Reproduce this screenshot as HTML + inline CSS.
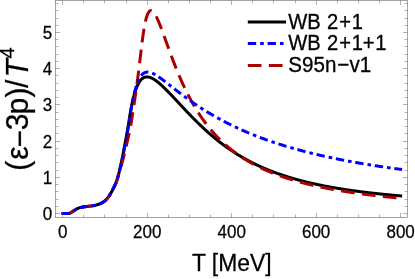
<!DOCTYPE html>
<html><head><meta charset="utf-8"><title>plot</title><style>
html,body{margin:0;padding:0;background:#fff;}
svg{display:block;font-family:"Liberation Sans",sans-serif;}
</style></head><body>
<svg width="415" height="279" viewBox="0 0 415 279">
<rect width="415" height="279" fill="#fff"/>
<g fill="none" stroke-linejoin="round" stroke-width="3">
<path d="M61.60,213.50 L62.86,213.50 L63.24,213.50 L63.62,213.50 L63.99,213.50 L64.37,213.50 L64.75,213.50 L65.13,213.50 L65.50,213.50 L65.88,213.50 L66.26,213.50 L66.63,213.50 L67.01,213.50 L67.39,213.50 L67.77,213.49 L68.14,213.48 L68.52,213.45 L68.90,213.40 L69.28,213.33 L69.65,213.23 L70.03,213.09 L70.41,212.93 L70.79,212.74 L71.16,212.53 L71.54,212.30 L71.92,212.06 L72.30,211.80 L72.67,211.53 L73.05,211.26 L73.43,210.99 L73.80,210.72 L74.18,210.46 L74.56,210.20 L74.94,209.95 L75.31,209.71 L75.69,209.48 L76.07,209.26 L76.45,209.05 L76.82,208.86 L77.20,208.67 L77.58,208.50 L77.96,208.33 L78.33,208.18 L78.71,208.05 L79.09,207.92 L79.46,207.81 L79.84,207.70 L80.22,207.60 L80.60,207.51 L80.97,207.42 L81.35,207.34 L81.73,207.27 L82.11,207.19 L82.48,207.12 L82.86,207.06 L83.24,207.00 L83.62,206.94 L83.99,206.88 L84.37,206.82 L84.75,206.77 L85.12,206.72 L85.50,206.67 L85.88,206.63 L86.26,206.58 L86.63,206.53 L87.01,206.49 L87.39,206.44 L87.77,206.40 L88.14,206.35 L88.52,206.31 L88.90,206.26 L89.28,206.22 L89.65,206.17 L90.03,206.13 L90.41,206.08 L90.79,206.03 L91.16,205.98 L91.54,205.92 L91.92,205.87 L92.29,205.81 L92.67,205.75 L93.05,205.69 L93.43,205.62 L93.80,205.55 L94.18,205.48 L94.56,205.41 L94.94,205.33 L95.31,205.24 L95.69,205.15 L96.07,205.06 L96.45,204.96 L96.82,204.86 L97.20,204.75 L97.58,204.64 L97.95,204.53 L98.33,204.41 L98.71,204.28 L99.09,204.15 L99.46,204.01 L99.84,203.86 L100.22,203.70 L100.60,203.54 L100.97,203.37 L101.35,203.18 L101.73,202.99 L102.11,202.78 L102.48,202.56 L102.86,202.33 L103.24,202.08 L103.62,201.82 L103.99,201.54 L104.37,201.24 L104.75,200.93 L105.12,200.60 L105.50,200.25 L105.88,199.89 L106.26,199.51 L106.63,199.11 L107.01,198.69 L107.39,198.26 L107.77,197.80 L108.14,197.33 L108.52,196.83 L108.90,196.31 L109.28,195.77 L109.65,195.20 L110.03,194.61 L110.41,193.99 L110.78,193.35 L111.16,192.68 L111.54,191.99 L111.92,191.30 L112.29,190.60 L112.67,189.90 L113.05,189.19 L113.43,188.47 L113.80,187.74 L114.18,186.98 L114.56,186.19 L114.94,185.37 L115.31,184.51 L115.69,183.60 L116.07,182.64 L116.45,181.61 L116.82,180.50 L117.20,179.31 L117.58,178.02 L117.95,176.65 L118.33,175.24 L118.71,173.78 L119.09,172.28 L119.46,170.73 L119.84,169.14 L120.22,167.51 L120.60,165.83 L120.97,164.11 L121.35,162.36 L121.73,160.56 L122.11,158.73 L122.48,156.87 L122.86,154.98 L123.24,153.05 L123.61,151.10 L123.99,149.13 L124.37,147.14 L124.75,145.13 L125.12,143.11 L125.50,141.07 L125.88,139.03 L126.26,136.99 L126.63,134.94 L127.01,132.89 L127.39,130.75 L127.77,128.51 L128.14,126.20 L128.52,123.84 L128.90,121.47 L129.28,119.12 L129.65,116.80 L130.03,114.54 L130.41,112.36 L130.78,110.27 L131.16,108.24 L131.54,106.25 L131.92,104.33 L132.29,102.51 L132.67,100.80 L133.05,99.20 L133.43,97.68 L133.80,96.23 L134.18,94.86 L134.56,93.55 L134.94,92.31 L135.31,91.13 L135.69,90.01 L136.07,88.95 L136.44,87.95 L136.82,86.99 L137.20,86.10 L137.58,85.26 L137.95,84.47 L138.33,83.73 L138.71,83.05 L139.09,82.40 L139.46,81.81 L139.84,81.25 L140.22,80.73 L140.60,80.26 L140.97,79.82 L141.35,79.42 L141.73,79.05 L142.11,78.72 L142.48,78.42 L142.86,78.16 L143.24,77.92 L143.61,77.71 L143.99,77.52 L144.37,77.37 L144.75,77.23 L145.12,77.12 L145.50,77.04 L145.88,76.97 L146.26,76.92 L146.63,76.90 L147.01,76.89 L147.39,76.90 L147.77,76.93 L148.14,76.98 L148.52,77.04 L148.90,77.12 L149.27,77.21 L149.65,77.31 L150.03,77.43 L150.41,77.57 L150.78,77.71 L151.16,77.87 L151.54,78.04 L151.92,78.21 L152.29,78.40 L152.67,78.60 L153.05,78.81 L153.43,79.03 L153.80,79.25 L154.18,79.49 L154.56,79.73 L154.93,79.98 L155.31,80.24 L155.69,80.50 L156.07,80.77 L156.44,81.05 L156.82,81.34 L157.20,81.62 L157.58,81.92 L157.95,82.22 L158.33,82.53 L158.71,82.84 L159.09,83.15 L159.46,83.47 L159.84,83.80 L160.22,84.13 L160.60,84.46 L160.97,84.80 L161.35,85.14 L161.73,85.48 L162.10,85.83 L162.48,86.18 L162.86,86.53 L163.24,86.89 L163.61,87.25 L163.99,87.61 L164.37,87.97 L164.75,88.34 L165.12,88.71 L165.50,89.08 L165.88,89.46 L166.26,89.83 L166.63,90.21 L167.01,90.59 L167.39,90.97 L167.76,91.36 L168.14,91.74 L168.52,92.13 L168.90,92.52 L169.27,92.91 L169.65,93.30 L170.03,93.69 L170.41,94.08 L170.78,94.48 L171.16,94.87 L171.54,95.27 L171.92,95.67 L172.29,96.06 L172.67,96.46 L173.05,96.86 L173.43,97.26 L173.80,97.66 L174.18,98.07 L174.56,98.47 L174.93,98.87 L175.31,99.27 L175.69,99.68 L176.07,100.08 L176.44,100.48 L176.82,100.89 L177.20,101.29 L177.58,101.70 L177.95,102.10 L178.33,102.51 L178.71,102.91 L179.09,103.32 L179.46,103.72 L179.84,104.13 L180.22,104.53 L180.59,104.93 L180.97,105.34 L181.35,105.74 L181.73,106.15 L182.10,106.55 L182.48,106.95 L182.86,107.36 L183.24,107.76 L183.61,108.16 L183.99,108.56 L184.37,108.96 L184.75,109.36 L185.12,109.76 L185.50,110.16 L185.88,110.56 L186.26,110.96 L186.63,111.36 L187.01,111.75 L187.39,112.15 L187.76,112.55 L188.14,112.94 L188.52,113.34 L188.90,113.73 L189.27,114.12 L189.65,114.51 L190.03,114.90 L190.41,115.29 L190.78,115.68 L191.16,116.07 L191.54,116.46 L191.92,116.85 L192.29,117.23 L192.67,117.62 L193.05,118.00 L193.42,118.38 L193.80,118.76 L194.18,119.15 L194.56,119.53 L194.93,119.90 L195.31,120.28 L195.69,120.66 L196.07,121.03 L196.44,121.41 L196.82,121.78 L197.20,122.15 L197.58,122.52 L197.95,122.89 L198.33,123.26 L198.71,123.63 L199.09,124.00 L199.46,124.36 L199.84,124.73 L200.22,125.09 L200.59,125.45 L200.97,125.81 L201.35,126.17 L201.73,126.53 L202.10,126.88 L202.48,127.24 L202.86,127.59 L203.24,127.95 L203.61,128.30 L203.99,128.65 L204.37,129.00 L204.75,129.34 L205.12,129.69 L205.50,130.04 L205.88,130.38 L206.25,130.72 L206.63,131.06 L207.01,131.40 L207.39,131.74 L207.76,132.08 L208.14,132.41 L208.52,132.75 L208.90,133.08 L209.27,133.41 L209.65,133.74 L210.03,134.07 L210.41,134.40 L210.78,134.73 L211.16,135.05 L211.54,135.38 L211.91,135.70 L212.29,136.02 L212.67,136.34 L213.05,136.66 L213.42,136.97 L213.80,137.29 L214.18,137.60 L214.56,137.92 L214.93,138.23 L215.31,138.54 L215.69,138.85 L216.07,139.15 L216.44,139.46 L216.82,139.76 L217.20,140.07 L217.58,140.37 L217.95,140.67 L218.33,140.97 L218.71,141.27 L219.08,141.56 L219.46,141.86 L219.84,142.15 L220.22,142.44 L220.59,142.73 L220.97,143.02 L221.35,143.31 L221.73,143.60 L222.10,143.88 L222.48,144.17 L222.86,144.45 L223.24,144.73 L223.61,145.01 L223.99,145.29 L224.37,145.57 L224.74,145.85 L225.12,146.12 L225.50,146.40 L225.88,146.67 L226.25,146.94 L226.63,147.21 L227.01,147.48 L227.39,147.74 L227.76,148.01 L228.14,148.27 L228.52,148.54 L228.90,148.80 L229.27,149.06 L229.65,149.32 L230.03,149.58 L230.41,149.83 L230.78,150.09 L231.16,150.34 L231.54,150.60 L231.91,150.85 L232.29,151.10 L232.67,151.35 L233.05,151.60 L233.42,151.84 L233.80,152.09 L234.18,152.33 L234.56,152.58 L234.93,152.82 L235.31,153.06 L235.69,153.30 L236.07,153.54 L236.44,153.77 L236.82,154.01 L237.20,154.24 L237.57,154.48 L237.95,154.71 L238.33,154.94 L238.71,155.17 L239.08,155.40 L239.46,155.63 L239.84,155.85 L240.22,156.08 L240.59,156.30 L240.97,156.53 L241.35,156.75 L241.73,156.97 L242.10,157.19 L242.48,157.41 L242.86,157.62 L243.24,157.84 L243.61,158.05 L243.99,158.27 L244.37,158.48 L244.74,158.69 L245.12,158.90 L245.50,159.11 L245.88,159.32 L246.25,159.53 L246.63,159.74 L247.01,159.94 L247.39,160.14 L247.76,160.35 L248.14,160.55 L248.52,160.75 L248.90,160.95 L249.27,161.15 L249.65,161.35 L250.03,161.55 L250.40,161.74 L250.78,161.94 L251.16,162.13 L251.54,162.32 L251.91,162.51 L252.29,162.71 L252.67,162.90 L253.05,163.08 L253.42,163.27 L253.80,163.46 L254.18,163.65 L254.56,163.83 L254.93,164.01 L255.31,164.20 L255.69,164.38 L256.07,164.56 L256.44,164.74 L256.82,164.92 L257.20,165.10 L257.57,165.28 L257.95,165.45 L258.33,165.63 L258.71,165.80 L259.08,165.98 L259.46,166.15 L259.84,166.32 L260.22,166.49 L260.59,166.66 L260.97,166.83 L261.35,167.00 L261.73,167.17 L262.10,167.34 L262.48,167.50 L262.86,167.67 L263.23,167.83 L263.61,167.99 L263.99,168.16 L264.37,168.32 L264.74,168.48 L265.12,168.64 L265.50,168.80 L265.88,168.96 L266.25,169.11 L266.63,169.27 L267.01,169.43 L267.39,169.58 L267.76,169.74 L268.14,169.89 L268.52,170.04 L268.90,170.19 L269.27,170.34 L269.65,170.50 L270.03,170.64 L270.40,170.79 L270.78,170.94 L271.16,171.09 L271.54,171.24 L271.91,171.38 L272.29,171.53 L272.67,171.67 L273.05,171.81 L273.42,171.96 L273.80,172.10 L274.18,172.24 L274.56,172.38 L274.93,172.52 L275.31,172.66 L275.69,172.80 L276.06,172.94 L276.44,173.07 L276.82,173.21 L277.20,173.34 L277.57,173.48 L277.95,173.61 L278.33,173.75 L278.71,173.88 L279.08,174.01 L279.46,174.14 L279.84,174.27 L280.22,174.40 L280.59,174.53 L280.97,174.66 L281.35,174.79 L281.72,174.92 L282.10,175.05 L282.48,175.17 L282.86,175.30 L283.23,175.42 L283.61,175.55 L283.99,175.67 L284.37,175.79 L284.74,175.92 L285.12,176.04 L285.50,176.16 L285.88,176.28 L286.25,176.40 L286.63,176.52 L287.01,176.64 L287.39,176.76 L287.76,176.87 L288.14,176.99 L288.52,177.11 L288.89,177.22 L289.27,177.34 L289.65,177.45 L290.03,177.57 L290.40,177.68 L290.78,177.79 L291.16,177.91 L291.54,178.02 L291.91,178.13 L292.29,178.24 L292.67,178.35 L293.05,178.46 L293.42,178.57 L293.80,178.68 L294.18,178.79 L294.55,178.90 L294.93,179.00 L295.31,179.11 L295.69,179.21 L296.06,179.32 L296.44,179.42 L296.82,179.53 L297.20,179.63 L297.57,179.74 L297.95,179.84 L298.33,179.94 L298.71,180.04 L299.08,180.15 L299.46,180.25 L299.84,180.35 L300.22,180.45 L300.59,180.55 L300.97,180.64 L301.35,180.74 L301.72,180.84 L302.10,180.94 L302.48,181.04 L302.86,181.13 L303.23,181.23 L303.61,181.32 L303.99,181.42 L304.37,181.51 L304.74,181.61 L305.12,181.70 L305.50,181.80 L305.88,181.89 L306.25,181.98 L306.63,182.07 L307.01,182.16 L307.38,182.26 L307.76,182.35 L308.14,182.44 L308.52,182.53 L308.89,182.62 L309.27,182.70 L309.65,182.79 L310.03,182.88 L310.40,182.97 L310.78,183.06 L311.16,183.14 L311.54,183.23 L311.91,183.32 L312.29,183.40 L312.67,183.49 L313.05,183.57 L313.42,183.66 L313.80,183.74 L314.18,183.82 L314.55,183.91 L314.93,183.99 L315.31,184.07 L315.69,184.15 L316.06,184.24 L316.44,184.32 L316.82,184.40 L317.20,184.48 L317.57,184.56 L317.95,184.64 L318.33,184.72 L318.71,184.80 L319.08,184.88 L319.46,184.95 L319.84,185.03 L320.21,185.11 L320.59,185.19 L320.97,185.26 L321.35,185.34 L321.72,185.42 L322.10,185.49 L322.48,185.57 L322.86,185.64 L323.23,185.72 L323.61,185.79 L323.99,185.87 L324.37,185.94 L324.74,186.01 L325.12,186.09 L325.50,186.16 L325.88,186.23 L326.25,186.30 L326.63,186.38 L327.01,186.45 L327.38,186.52 L327.76,186.59 L328.14,186.66 L328.52,186.73 L328.89,186.80 L329.27,186.87 L329.65,186.94 L330.03,187.01 L330.40,187.08 L330.78,187.14 L331.16,187.21 L331.54,187.28 L331.91,187.35 L332.29,187.41 L332.67,187.48 L333.04,187.55 L333.42,187.61 L333.80,187.68 L334.18,187.75 L334.55,187.81 L334.93,187.88 L335.31,187.94 L335.69,188.00 L336.06,188.07 L336.44,188.13 L336.82,188.20 L337.20,188.26 L337.57,188.32 L337.95,188.39 L338.33,188.45 L338.70,188.51 L339.08,188.57 L339.46,188.63 L339.84,188.69 L340.21,188.76 L340.59,188.82 L340.97,188.88 L341.35,188.94 L341.72,189.00 L342.10,189.06 L342.48,189.12 L342.86,189.18 L343.23,189.24 L343.61,189.29 L343.99,189.35 L344.37,189.41 L344.74,189.47 L345.12,189.53 L345.50,189.58 L345.87,189.64 L346.25,189.70 L346.63,189.75 L347.01,189.81 L347.38,189.87 L347.76,189.92 L348.14,189.98 L348.52,190.03 L348.89,190.09 L349.27,190.14 L349.65,190.20 L350.03,190.25 L350.40,190.31 L350.78,190.36 L351.16,190.42 L351.53,190.47 L351.91,190.52 L352.29,190.58 L352.67,190.63 L353.04,190.68 L353.42,190.74 L353.80,190.79 L354.18,190.84 L354.55,190.89 L354.93,190.94 L355.31,190.99 L355.69,191.05 L356.06,191.10 L356.44,191.15 L356.82,191.20 L357.20,191.25 L357.57,191.30 L357.95,191.35 L358.33,191.40 L358.70,191.45 L359.08,191.50 L359.46,191.55 L359.84,191.60 L360.21,191.64 L360.59,191.69 L360.97,191.74 L361.35,191.79 L361.72,191.84 L362.10,191.88 L362.48,191.93 L362.86,191.98 L363.23,192.03 L363.61,192.07 L363.99,192.12 L364.36,192.17 L364.74,192.21 L365.12,192.26 L365.50,192.31 L365.87,192.35 L366.25,192.40 L366.63,192.44 L367.01,192.49 L367.38,192.53 L367.76,192.58 L368.14,192.62 L368.52,192.67 L368.89,192.71 L369.27,192.75 L369.65,192.80 L370.03,192.84 L370.40,192.89 L370.78,192.93 L371.16,192.97 L371.53,193.02 L371.91,193.06 L372.29,193.10 L372.67,193.14 L373.04,193.19 L373.42,193.23 L373.80,193.27 L374.18,193.31 L374.55,193.35 L374.93,193.40 L375.31,193.44 L375.69,193.48 L376.06,193.52 L376.44,193.56 L376.82,193.60 L377.19,193.64 L377.57,193.68 L377.95,193.72 L378.33,193.76 L378.70,193.80 L379.08,193.84 L379.46,193.88 L379.84,193.92 L380.21,193.96 L380.59,194.00 L380.97,194.04 L381.35,194.08 L381.72,194.12 L382.10,194.16 L382.48,194.19 L382.86,194.23 L383.23,194.27 L383.61,194.31 L383.99,194.35 L384.36,194.38 L384.74,194.42 L385.12,194.46 L385.50,194.50 L385.87,194.53 L386.25,194.57 L386.63,194.61 L387.01,194.64 L387.38,194.68 L387.76,194.72 L388.14,194.75 L388.52,194.79 L388.89,194.82 L389.27,194.86 L389.65,194.90 L390.02,194.93 L390.40,194.97 L390.78,195.00 L391.16,195.04 L391.53,195.07 L391.91,195.11 L392.29,195.14 L392.67,195.18 L393.04,195.21 L393.42,195.25 L393.80,195.28 L394.18,195.31 L394.55,195.35 L394.93,195.38 L395.31,195.42 L395.69,195.45 L396.06,195.48 L396.44,195.52 L396.82,195.55 L397.19,195.58 L397.57,195.62 L397.95,195.65 L398.33,195.68 L398.70,195.71 L399.08,195.75 L399.46,195.78 L399.84,195.81 L400.21,195.84 L400.59,195.88 L400.97,195.91 L401.35,195.94 L401.72,195.97 L402.10,196.00" stroke="#000"/>
<path d="M61.60,213.50 L62.86,213.50 L63.24,213.50 L63.62,213.50 L63.99,213.50 L64.37,213.50 L64.75,213.50 L65.13,213.50 L65.50,213.50 L65.88,213.50 L66.26,213.50 L66.63,213.50 L67.01,213.50 L67.39,213.50 L67.77,213.49 L68.14,213.48 L68.52,213.45 L68.90,213.40 L69.28,213.33 L69.65,213.23 L70.03,213.09 L70.41,212.93 L70.79,212.74 L71.16,212.53 L71.54,212.30 L71.92,212.06 L72.30,211.80 L72.67,211.53 L73.05,211.26 L73.43,210.99 L73.80,210.72 L74.18,210.46 L74.56,210.20 L74.94,209.95 L75.31,209.71 L75.69,209.48 L76.07,209.26 L76.45,209.05 L76.82,208.86 L77.20,208.67 L77.58,208.50 L77.96,208.33 L78.33,208.18 L78.71,208.05 L79.09,207.92 L79.46,207.81 L79.84,207.70 L80.22,207.60 L80.60,207.51 L80.97,207.42 L81.35,207.34 L81.73,207.27 L82.11,207.19 L82.48,207.12 L82.86,207.06 L83.24,207.00 L83.62,206.94 L83.99,206.88 L84.37,206.82 L84.75,206.77 L85.12,206.72 L85.50,206.67 L85.88,206.63 L86.26,206.58 L86.63,206.53 L87.01,206.49 L87.39,206.44 L87.77,206.40 L88.14,206.35 L88.52,206.31 L88.90,206.26 L89.28,206.22 L89.65,206.17 L90.03,206.13 L90.41,206.08 L90.79,206.03 L91.16,205.98 L91.54,205.92 L91.92,205.87 L92.29,205.81 L92.67,205.75 L93.05,205.69 L93.43,205.62 L93.80,205.55 L94.18,205.48 L94.56,205.41 L94.94,205.33 L95.31,205.24 L95.69,205.15 L96.07,205.06 L96.45,204.96 L96.82,204.86 L97.20,204.75 L97.58,204.64 L97.95,204.53 L98.33,204.41 L98.71,204.28 L99.09,204.15 L99.46,204.01 L99.84,203.86 L100.22,203.70 L100.60,203.54 L100.97,203.37 L101.35,203.18 L101.73,202.99 L102.11,202.78 L102.48,202.56 L102.86,202.33 L103.24,202.08 L103.62,201.82 L103.99,201.54 L104.37,201.24 L104.75,200.93 L105.12,200.60 L105.50,200.25 L105.88,199.89 L106.26,199.51 L106.63,199.11 L107.01,198.69 L107.39,198.26 L107.77,197.80 L108.14,197.33 L108.52,196.83 L108.90,196.31 L109.28,195.76 L109.65,195.17 L110.03,194.56 L110.41,193.93 L110.78,193.28 L111.16,192.59 L111.54,191.90 L111.92,191.20 L112.29,190.49 L112.67,189.78 L113.05,189.07 L113.43,188.33 L113.80,187.58 L114.18,186.81 L114.56,186.02 L114.94,185.19 L115.31,184.33 L115.69,183.42 L116.07,182.48 L116.45,181.49 L116.82,180.45 L117.20,179.35 L117.58,178.20 L117.95,177.00 L118.33,175.78 L118.71,174.54 L119.09,173.29 L119.46,172.02 L119.84,170.73 L120.22,169.42 L120.60,168.10 L120.97,166.76 L121.35,165.41 L121.73,164.04 L122.11,162.65 L122.48,161.24 L122.86,159.81 L123.24,158.36 L123.61,156.88 L123.99,155.38 L124.37,153.86 L124.75,152.32 L125.12,150.78 L125.50,149.23 L125.88,147.67 L126.26,146.09 L126.63,144.51 L127.01,142.91 L127.39,141.27 L127.77,139.59 L128.14,137.87 L128.52,136.13 L128.90,134.37 L129.28,132.60 L129.65,130.81 L130.03,128.95 L130.41,127.00 L130.78,124.98 L131.16,122.87 L131.54,120.67 L131.92,118.40 L132.29,116.05 L132.67,113.65 L133.05,111.18 L133.43,108.67 L133.80,106.12 L134.18,103.54 L134.56,100.95 L134.94,98.38 L135.31,95.84 L135.69,93.29 L136.07,90.65 L136.44,87.93 L136.82,85.13 L137.20,82.29 L137.58,79.40 L137.95,76.48 L138.33,73.50 L138.71,70.49 L139.09,67.43 L139.46,64.33 L139.84,61.18 L140.22,58.00 L140.60,54.84 L140.97,51.60 L141.35,48.41 L141.73,45.28 L142.11,42.25 L142.48,39.34 L142.86,36.55 L143.24,33.91 L143.61,31.41 L143.99,29.07 L144.37,26.88 L144.75,24.84 L145.12,22.96 L145.50,21.24 L145.88,19.66 L146.26,18.22 L146.63,16.93 L147.01,15.78 L147.39,14.75 L147.77,13.86 L148.14,13.08 L148.52,12.42 L148.90,11.87 L149.27,11.42 L149.65,11.08 L150.03,10.83 L150.41,10.67 L150.78,10.59 L151.16,10.60 L151.54,10.68 L151.92,10.83 L152.29,11.05 L152.67,11.33 L153.05,11.68 L153.43,12.08 L153.80,12.53 L154.18,13.03 L154.56,13.58 L154.93,14.17 L155.31,14.80 L155.69,15.47 L156.07,16.18 L156.44,16.92 L156.82,17.68 L157.20,18.48 L157.58,19.30 L157.95,20.15 L158.33,21.02 L158.71,21.91 L159.09,22.82 L159.46,23.74 L159.84,24.68 L160.22,25.64 L160.60,26.61 L160.97,27.59 L161.35,28.58 L161.73,29.58 L162.10,30.59 L162.48,31.61 L162.86,32.63 L163.24,33.66 L163.61,34.69 L163.99,35.73 L164.37,36.77 L164.75,37.81 L165.12,38.86 L165.50,39.91 L165.88,40.96 L166.26,42.00 L166.63,43.05 L167.01,44.10 L167.39,45.14 L167.76,46.19 L168.14,47.23 L168.52,48.27 L168.90,49.31 L169.27,50.34 L169.65,51.37 L170.03,52.40 L170.41,53.42 L170.78,54.44 L171.16,55.45 L171.54,56.46 L171.92,57.46 L172.29,58.46 L172.67,59.46 L173.05,60.45 L173.43,61.43 L173.80,62.41 L174.18,63.38 L174.56,64.35 L174.93,65.31 L175.31,66.26 L175.69,67.21 L176.07,68.15 L176.44,69.09 L176.82,70.02 L177.20,70.94 L177.58,71.86 L177.95,72.77 L178.33,73.68 L178.71,74.57 L179.09,75.47 L179.46,76.35 L179.84,77.23 L180.22,78.10 L180.59,78.97 L180.97,79.82 L181.35,80.68 L181.73,81.52 L182.10,82.36 L182.48,83.19 L182.86,84.02 L183.24,84.84 L183.61,85.65 L183.99,86.46 L184.37,87.26 L184.75,88.05 L185.12,88.84 L185.50,89.62 L185.88,90.40 L186.26,91.17 L186.63,91.93 L187.01,92.68 L187.39,93.43 L187.76,94.18 L188.14,94.92 L188.52,95.65 L188.90,96.37 L189.27,97.09 L189.65,97.81 L190.03,98.51 L190.41,99.22 L190.78,99.91 L191.16,100.60 L191.54,101.29 L191.92,101.97 L192.29,102.64 L192.67,103.31 L193.05,103.97 L193.42,104.63 L193.80,105.28 L194.18,105.92 L194.56,106.56 L194.93,107.20 L195.31,107.83 L195.69,108.45 L196.07,109.07 L196.44,109.69 L196.82,110.30 L197.20,110.90 L197.58,111.50 L197.95,112.09 L198.33,112.68 L198.71,113.27 L199.09,113.85 L199.46,114.42 L199.84,114.99 L200.22,115.56 L200.59,116.12 L200.97,116.67 L201.35,117.23 L201.73,117.77 L202.10,118.32 L202.48,118.85 L202.86,119.39 L203.24,119.92 L203.61,120.44 L203.99,120.96 L204.37,121.48 L204.75,121.99 L205.12,122.50 L205.50,123.01 L205.88,123.51 L206.25,124.00 L206.63,124.50 L207.01,124.98 L207.39,125.47 L207.76,125.95 L208.14,126.43 L208.52,126.90 L208.90,127.37 L209.27,127.83 L209.65,128.29 L210.03,128.75 L210.41,129.21 L210.78,129.66 L211.16,130.11 L211.54,130.55 L211.91,130.99 L212.29,131.43 L212.67,131.86 L213.05,132.29 L213.42,132.72 L213.80,133.14 L214.18,133.56 L214.56,133.98 L214.93,134.39 L215.31,134.80 L215.69,135.21 L216.07,135.61 L216.44,136.01 L216.82,136.41 L217.20,136.81 L217.58,137.20 L217.95,137.59 L218.33,137.98 L218.71,138.36 L219.08,138.74 L219.46,139.12 L219.84,139.49 L220.22,139.86 L220.59,140.23 L220.97,140.60 L221.35,140.96 L221.73,141.32 L222.10,141.68 L222.48,142.04 L222.86,142.39 L223.24,142.74 L223.61,143.09 L223.99,143.43 L224.37,143.78 L224.74,144.12 L225.12,144.46 L225.50,144.79 L225.88,145.12 L226.25,145.45 L226.63,145.78 L227.01,146.11 L227.39,146.43 L227.76,146.75 L228.14,147.07 L228.52,147.39 L228.90,147.70 L229.27,148.01 L229.65,148.32 L230.03,148.63 L230.41,148.94 L230.78,149.24 L231.16,149.54 L231.54,149.84 L231.91,150.14 L232.29,150.43 L232.67,150.72 L233.05,151.02 L233.42,151.30 L233.80,151.59 L234.18,151.88 L234.56,152.16 L234.93,152.44 L235.31,152.72 L235.69,153.00 L236.07,153.27 L236.44,153.54 L236.82,153.81 L237.20,154.08 L237.57,154.35 L237.95,154.62 L238.33,154.88 L238.71,155.14 L239.08,155.40 L239.46,155.66 L239.84,155.92 L240.22,156.18 L240.59,156.43 L240.97,156.68 L241.35,156.93 L241.73,157.18 L242.10,157.43 L242.48,157.67 L242.86,157.92 L243.24,158.16 L243.61,158.40 L243.99,158.64 L244.37,158.88 L244.74,159.11 L245.12,159.35 L245.50,159.58 L245.88,159.81 L246.25,160.04 L246.63,160.27 L247.01,160.50 L247.39,160.72 L247.76,160.94 L248.14,161.17 L248.52,161.39 L248.90,161.61 L249.27,161.83 L249.65,162.04 L250.03,162.26 L250.40,162.47 L250.78,162.69 L251.16,162.90 L251.54,163.11 L251.91,163.32 L252.29,163.52 L252.67,163.73 L253.05,163.94 L253.42,164.14 L253.80,164.34 L254.18,164.54 L254.56,164.74 L254.93,164.94 L255.31,165.14 L255.69,165.34 L256.07,165.53 L256.44,165.72 L256.82,165.92 L257.20,166.11 L257.57,166.30 L257.95,166.49 L258.33,166.68 L258.71,166.86 L259.08,167.05 L259.46,167.23 L259.84,167.42 L260.22,167.60 L260.59,167.78 L260.97,167.96 L261.35,168.14 L261.73,168.32 L262.10,168.50 L262.48,168.67 L262.86,168.85 L263.23,169.02 L263.61,169.20 L263.99,169.37 L264.37,169.54 L264.74,169.71 L265.12,169.88 L265.50,170.05 L265.88,170.21 L266.25,170.38 L266.63,170.54 L267.01,170.71 L267.39,170.87 L267.76,171.03 L268.14,171.19 L268.52,171.36 L268.90,171.51 L269.27,171.67 L269.65,171.83 L270.03,171.99 L270.40,172.14 L270.78,172.30 L271.16,172.45 L271.54,172.61 L271.91,172.76 L272.29,172.91 L272.67,173.06 L273.05,173.21 L273.42,173.36 L273.80,173.51 L274.18,173.66 L274.56,173.80 L274.93,173.95 L275.31,174.09 L275.69,174.24 L276.06,174.38 L276.44,174.52 L276.82,174.66 L277.20,174.81 L277.57,174.95 L277.95,175.08 L278.33,175.22 L278.71,175.36 L279.08,175.50 L279.46,175.64 L279.84,175.77 L280.22,175.91 L280.59,176.04 L280.97,176.17 L281.35,176.31 L281.72,176.44 L282.10,176.57 L282.48,176.70 L282.86,176.83 L283.23,176.96 L283.61,177.09 L283.99,177.22 L284.37,177.34 L284.74,177.47 L285.12,177.60 L285.50,177.72 L285.88,177.85 L286.25,177.97 L286.63,178.09 L287.01,178.22 L287.39,178.34 L287.76,178.46 L288.14,178.58 L288.52,178.70 L288.89,178.82 L289.27,178.94 L289.65,179.06 L290.03,179.17 L290.40,179.29 L290.78,179.41 L291.16,179.52 L291.54,179.64 L291.91,179.75 L292.29,179.87 L292.67,179.98 L293.05,180.09 L293.42,180.21 L293.80,180.32 L294.18,180.43 L294.55,180.54 L294.93,180.65 L295.31,180.76 L295.69,180.87 L296.06,180.98 L296.44,181.08 L296.82,181.19 L297.20,181.30 L297.57,181.40 L297.95,181.51 L298.33,181.62 L298.71,181.72 L299.08,181.82 L299.46,181.93 L299.84,182.03 L300.22,182.13 L300.59,182.24 L300.97,182.34 L301.35,182.44 L301.72,182.54 L302.10,182.64 L302.48,182.74 L302.86,182.84 L303.23,182.94 L303.61,183.03 L303.99,183.13 L304.37,183.23 L304.74,183.33 L305.12,183.42 L305.50,183.52 L305.88,183.61 L306.25,183.71 L306.63,183.80 L307.01,183.90 L307.38,183.99 L307.76,184.08 L308.14,184.18 L308.52,184.27 L308.89,184.36 L309.27,184.45 L309.65,184.54 L310.03,184.63 L310.40,184.72 L310.78,184.81 L311.16,184.90 L311.54,184.99 L311.91,185.08 L312.29,185.17 L312.67,185.26 L313.05,185.34 L313.42,185.43 L313.80,185.52 L314.18,185.60 L314.55,185.69 L314.93,185.77 L315.31,185.86 L315.69,185.94 L316.06,186.03 L316.44,186.11 L316.82,186.19 L317.20,186.28 L317.57,186.36 L317.95,186.44 L318.33,186.52 L318.71,186.60 L319.08,186.68 L319.46,186.76 L319.84,186.84 L320.21,186.92 L320.59,187.00 L320.97,187.08 L321.35,187.16 L321.72,187.24 L322.10,187.32 L322.48,187.40 L322.86,187.47 L323.23,187.55 L323.61,187.63 L323.99,187.70 L324.37,187.78 L324.74,187.86 L325.12,187.93 L325.50,188.01 L325.88,188.08 L326.25,188.16 L326.63,188.23 L327.01,188.30 L327.38,188.38 L327.76,188.45 L328.14,188.52 L328.52,188.59 L328.89,188.67 L329.27,188.74 L329.65,188.81 L330.03,188.88 L330.40,188.95 L330.78,189.02 L331.16,189.09 L331.54,189.16 L331.91,189.23 L332.29,189.30 L332.67,189.37 L333.04,189.44 L333.42,189.51 L333.80,189.58 L334.18,189.64 L334.55,189.71 L334.93,189.78 L335.31,189.85 L335.69,189.91 L336.06,189.98 L336.44,190.05 L336.82,190.11 L337.20,190.18 L337.57,190.24 L337.95,190.31 L338.33,190.37 L338.70,190.44 L339.08,190.50 L339.46,190.56 L339.84,190.63 L340.21,190.69 L340.59,190.75 L340.97,190.82 L341.35,190.88 L341.72,190.94 L342.10,191.00 L342.48,191.07 L342.86,191.13 L343.23,191.19 L343.61,191.25 L343.99,191.31 L344.37,191.37 L344.74,191.43 L345.12,191.49 L345.50,191.55 L345.87,191.61 L346.25,191.67 L346.63,191.73 L347.01,191.79 L347.38,191.85 L347.76,191.91 L348.14,191.96 L348.52,192.02 L348.89,192.08 L349.27,192.14 L349.65,192.19 L350.03,192.25 L350.40,192.31 L350.78,192.36 L351.16,192.42 L351.53,192.48 L351.91,192.53 L352.29,192.59 L352.67,192.64 L353.04,192.70 L353.42,192.75 L353.80,192.81 L354.18,192.86 L354.55,192.92 L354.93,192.97 L355.31,193.03 L355.69,193.08 L356.06,193.13 L356.44,193.19 L356.82,193.24 L357.20,193.29 L357.57,193.34 L357.95,193.40 L358.33,193.45 L358.70,193.50 L359.08,193.55 L359.46,193.60 L359.84,193.66 L360.21,193.71 L360.59,193.76 L360.97,193.81 L361.35,193.86 L361.72,193.91 L362.10,193.96 L362.48,194.01 L362.86,194.06 L363.23,194.11 L363.61,194.16 L363.99,194.21 L364.36,194.26 L364.74,194.31 L365.12,194.35 L365.50,194.40 L365.87,194.45 L366.25,194.50 L366.63,194.55 L367.01,194.60 L367.38,194.64 L367.76,194.69 L368.14,194.74 L368.52,194.78 L368.89,194.83 L369.27,194.88 L369.65,194.92 L370.03,194.97 L370.40,195.02 L370.78,195.06 L371.16,195.11 L371.53,195.15 L371.91,195.20 L372.29,195.25 L372.67,195.29 L373.04,195.34 L373.42,195.38 L373.80,195.43 L374.18,195.47 L374.55,195.51 L374.93,195.56 L375.31,195.60 L375.69,195.65 L376.06,195.69 L376.44,195.73 L376.82,195.78 L377.19,195.82 L377.57,195.86 L377.95,195.91 L378.33,195.95 L378.70,195.99 L379.08,196.03 L379.46,196.08 L379.84,196.12 L380.21,196.16 L380.59,196.20 L380.97,196.24 L381.35,196.28 L381.72,196.33 L382.10,196.37 L382.48,196.41 L382.86,196.45 L383.23,196.49 L383.61,196.53 L383.99,196.57 L384.36,196.61 L384.74,196.65 L385.12,196.69 L385.50,196.73 L385.87,196.77 L386.25,196.81 L386.63,196.85 L387.01,196.89 L387.38,196.93 L387.76,196.97 L388.14,197.01 L388.52,197.04 L388.89,197.08 L389.27,197.12 L389.65,197.16 L390.02,197.20 L390.40,197.24 L390.78,197.27 L391.16,197.31 L391.53,197.35 L391.91,197.39 L392.29,197.42 L392.67,197.46 L393.04,197.50 L393.42,197.54 L393.80,197.57 L394.18,197.61 L394.55,197.65 L394.93,197.68 L395.31,197.72 L395.69,197.76 L396.06,197.79 L396.44,197.83 L396.82,197.86 L397.19,197.90 L397.57,197.93 L397.95,197.97 L398.33,198.01 L398.70,198.04 L399.08,198.08 L399.46,198.11 L399.84,198.15 L400.21,198.18 L400.59,198.22 L400.97,198.25 L401.35,198.28 L401.72,198.32 L402.10,198.35" stroke="#aa0000" stroke-dasharray="13.7 7.35"/>
<path d="M61.60,213.50 L62.86,213.50 L63.24,213.50 L63.62,213.50 L63.99,213.50 L64.37,213.50 L64.75,213.50 L65.13,213.50 L65.50,213.50 L65.88,213.50 L66.26,213.50 L66.63,213.50 L67.01,213.50 L67.39,213.50 L67.77,213.49 L68.14,213.48 L68.52,213.45 L68.90,213.40 L69.28,213.33 L69.65,213.23 L70.03,213.09 L70.41,212.93 L70.79,212.74 L71.16,212.53 L71.54,212.30 L71.92,212.06 L72.30,211.80 L72.67,211.53 L73.05,211.26 L73.43,210.99 L73.80,210.72 L74.18,210.46 L74.56,210.20 L74.94,209.95 L75.31,209.71 L75.69,209.48 L76.07,209.26 L76.45,209.05 L76.82,208.86 L77.20,208.67 L77.58,208.50 L77.96,208.33 L78.33,208.18 L78.71,208.05 L79.09,207.92 L79.46,207.81 L79.84,207.70 L80.22,207.60 L80.60,207.51 L80.97,207.42 L81.35,207.34 L81.73,207.27 L82.11,207.19 L82.48,207.12 L82.86,207.06 L83.24,207.00 L83.62,206.94 L83.99,206.88 L84.37,206.82 L84.75,206.77 L85.12,206.72 L85.50,206.67 L85.88,206.63 L86.26,206.58 L86.63,206.53 L87.01,206.49 L87.39,206.44 L87.77,206.40 L88.14,206.35 L88.52,206.31 L88.90,206.26 L89.28,206.22 L89.65,206.17 L90.03,206.13 L90.41,206.08 L90.79,206.03 L91.16,205.98 L91.54,205.92 L91.92,205.87 L92.29,205.81 L92.67,205.75 L93.05,205.69 L93.43,205.62 L93.80,205.55 L94.18,205.48 L94.56,205.41 L94.94,205.33 L95.31,205.24 L95.69,205.15 L96.07,205.06 L96.45,204.96 L96.82,204.86 L97.20,204.75 L97.58,204.64 L97.95,204.53 L98.33,204.41 L98.71,204.28 L99.09,204.15 L99.46,204.01 L99.84,203.86 L100.22,203.70 L100.60,203.54 L100.97,203.37 L101.35,203.18 L101.73,202.99 L102.11,202.78 L102.48,202.56 L102.86,202.33 L103.24,202.08 L103.62,201.82 L103.99,201.54 L104.37,201.24 L104.75,200.93 L105.12,200.58 L105.50,200.21 L105.88,199.81 L106.26,199.40 L106.63,198.97 L107.01,198.52 L107.39,198.06 L107.77,197.57 L108.14,197.06 L108.52,196.54 L108.90,195.99 L109.28,195.42 L109.65,194.82 L110.03,194.21 L110.41,193.57 L110.78,192.92 L111.16,192.23 L111.54,191.53 L111.92,190.83 L112.29,190.13 L112.67,189.43 L113.05,188.73 L113.43,188.01 L113.80,187.28 L114.18,186.54 L114.56,185.77 L114.94,184.98 L115.31,184.14 L115.69,183.27 L116.07,182.35 L116.45,181.37 L116.82,180.32 L117.20,179.19 L117.58,177.97 L117.95,176.69 L118.33,175.36 L118.71,174.00 L119.09,172.59 L119.46,171.15 L119.84,169.66 L120.22,168.14 L120.60,166.57 L120.97,164.97 L121.35,163.32 L121.73,161.64 L122.11,159.92 L122.48,158.17 L122.86,156.38 L123.24,154.56 L123.61,152.70 L123.99,150.82 L124.37,148.91 L124.75,146.97 L125.12,145.01 L125.50,143.03 L125.88,141.02 L126.26,139.01 L126.63,136.98 L127.01,134.92 L127.39,132.76 L127.77,130.48 L128.14,128.11 L128.52,125.68 L128.90,123.21 L129.28,120.72 L129.65,118.26 L130.03,115.83 L130.41,113.47 L130.78,111.20 L131.16,108.96 L131.54,106.75 L131.92,104.61 L132.29,102.55 L132.67,100.60 L133.05,98.77 L133.43,97.02 L133.80,95.34 L134.18,93.73 L134.56,92.19 L134.94,90.74 L135.31,89.36 L135.69,88.04 L136.07,86.78 L136.44,85.59 L136.82,84.47 L137.20,83.41 L137.58,82.41 L137.95,81.47 L138.33,80.59 L138.71,79.77 L139.09,79.00 L139.46,78.29 L139.84,77.62 L140.22,77.00 L140.60,76.43 L140.97,75.90 L141.35,75.41 L141.73,74.97 L142.11,74.56 L142.48,74.19 L142.86,73.86 L143.24,73.56 L143.61,73.30 L143.99,73.06 L144.37,72.85 L144.75,72.67 L145.12,72.52 L145.50,72.39 L145.88,72.29 L146.26,72.20 L146.63,72.14 L147.01,72.10 L147.39,72.08 L147.77,72.08 L148.14,72.09 L148.52,72.12 L148.90,72.17 L149.27,72.23 L149.65,72.31 L150.03,72.40 L150.41,72.50 L150.78,72.62 L151.16,72.74 L151.54,72.88 L151.92,73.03 L152.29,73.19 L152.67,73.35 L153.05,73.53 L153.43,73.71 L153.80,73.90 L154.18,74.10 L154.56,74.30 L154.93,74.51 L155.31,74.73 L155.69,74.95 L156.07,75.18 L156.44,75.41 L156.82,75.65 L157.20,75.89 L157.58,76.14 L157.95,76.39 L158.33,76.64 L158.71,76.90 L159.09,77.16 L159.46,77.42 L159.84,77.69 L160.22,77.96 L160.60,78.23 L160.97,78.51 L161.35,78.78 L161.73,79.06 L162.10,79.34 L162.48,79.62 L162.86,79.90 L163.24,80.19 L163.61,80.48 L163.99,80.76 L164.37,81.05 L164.75,81.34 L165.12,81.63 L165.50,81.92 L165.88,82.21 L166.26,82.51 L166.63,82.80 L167.01,83.09 L167.39,83.39 L167.76,83.68 L168.14,83.98 L168.52,84.27 L168.90,84.57 L169.27,84.86 L169.65,85.16 L170.03,85.45 L170.41,85.75 L170.78,86.05 L171.16,86.34 L171.54,86.64 L171.92,86.93 L172.29,87.23 L172.67,87.52 L173.05,87.82 L173.43,88.11 L173.80,88.41 L174.18,88.70 L174.56,89.00 L174.93,89.29 L175.31,89.58 L175.69,89.88 L176.07,90.17 L176.44,90.46 L176.82,90.75 L177.20,91.04 L177.58,91.33 L177.95,91.62 L178.33,91.91 L178.71,92.20 L179.09,92.49 L179.46,92.78 L179.84,93.06 L180.22,93.35 L180.59,93.63 L180.97,93.92 L181.35,94.20 L181.73,94.49 L182.10,94.77 L182.48,95.05 L182.86,95.33 L183.24,95.62 L183.61,95.90 L183.99,96.18 L184.37,96.45 L184.75,96.73 L185.12,97.01 L185.50,97.29 L185.88,97.56 L186.26,97.84 L186.63,98.11 L187.01,98.39 L187.39,98.66 L187.76,98.93 L188.14,99.20 L188.52,99.47 L188.90,99.74 L189.27,100.01 L189.65,100.28 L190.03,100.55 L190.41,100.81 L190.78,101.08 L191.16,101.34 L191.54,101.61 L191.92,101.87 L192.29,102.13 L192.67,102.40 L193.05,102.66 L193.42,102.92 L193.80,103.18 L194.18,103.44 L194.56,103.69 L194.93,103.95 L195.31,104.21 L195.69,104.46 L196.07,104.72 L196.44,104.97 L196.82,105.22 L197.20,105.48 L197.58,105.73 L197.95,105.98 L198.33,106.23 L198.71,106.48 L199.09,106.73 L199.46,106.97 L199.84,107.22 L200.22,107.46 L200.59,107.71 L200.97,107.95 L201.35,108.20 L201.73,108.44 L202.10,108.68 L202.48,108.92 L202.86,109.16 L203.24,109.40 L203.61,109.64 L203.99,109.88 L204.37,110.11 L204.75,110.35 L205.12,110.59 L205.50,110.82 L205.88,111.05 L206.25,111.29 L206.63,111.52 L207.01,111.75 L207.39,111.98 L207.76,112.21 L208.14,112.44 L208.52,112.67 L208.90,112.89 L209.27,113.12 L209.65,113.35 L210.03,113.57 L210.41,113.80 L210.78,114.02 L211.16,114.24 L211.54,114.46 L211.91,114.69 L212.29,114.91 L212.67,115.13 L213.05,115.35 L213.42,115.56 L213.80,115.78 L214.18,116.00 L214.56,116.21 L214.93,116.43 L215.31,116.64 L215.69,116.86 L216.07,117.07 L216.44,117.28 L216.82,117.49 L217.20,117.70 L217.58,117.91 L217.95,118.12 L218.33,118.33 L218.71,118.54 L219.08,118.75 L219.46,118.95 L219.84,119.16 L220.22,119.36 L220.59,119.57 L220.97,119.77 L221.35,119.97 L221.73,120.18 L222.10,120.38 L222.48,120.58 L222.86,120.78 L223.24,120.98 L223.61,121.18 L223.99,121.37 L224.37,121.57 L224.74,121.77 L225.12,121.96 L225.50,122.16 L225.88,122.35 L226.25,122.55 L226.63,122.74 L227.01,122.93 L227.39,123.13 L227.76,123.32 L228.14,123.51 L228.52,123.70 L228.90,123.89 L229.27,124.07 L229.65,124.26 L230.03,124.45 L230.41,124.64 L230.78,124.82 L231.16,125.01 L231.54,125.19 L231.91,125.38 L232.29,125.56 L232.67,125.74 L233.05,125.92 L233.42,126.11 L233.80,126.29 L234.18,126.47 L234.56,126.65 L234.93,126.83 L235.31,127.00 L235.69,127.18 L236.07,127.36 L236.44,127.53 L236.82,127.71 L237.20,127.89 L237.57,128.06 L237.95,128.23 L238.33,128.41 L238.71,128.58 L239.08,128.75 L239.46,128.93 L239.84,129.10 L240.22,129.27 L240.59,129.44 L240.97,129.61 L241.35,129.77 L241.73,129.94 L242.10,130.11 L242.48,130.28 L242.86,130.44 L243.24,130.61 L243.61,130.78 L243.99,130.94 L244.37,131.10 L244.74,131.27 L245.12,131.43 L245.50,131.59 L245.88,131.76 L246.25,131.92 L246.63,132.08 L247.01,132.24 L247.39,132.40 L247.76,132.56 L248.14,132.72 L248.52,132.87 L248.90,133.03 L249.27,133.19 L249.65,133.34 L250.03,133.50 L250.40,133.66 L250.78,133.81 L251.16,133.97 L251.54,134.12 L251.91,134.27 L252.29,134.43 L252.67,134.58 L253.05,134.73 L253.42,134.88 L253.80,135.03 L254.18,135.18 L254.56,135.33 L254.93,135.48 L255.31,135.63 L255.69,135.78 L256.07,135.93 L256.44,136.07 L256.82,136.22 L257.20,136.37 L257.57,136.51 L257.95,136.66 L258.33,136.80 L258.71,136.95 L259.08,137.09 L259.46,137.24 L259.84,137.38 L260.22,137.52 L260.59,137.66 L260.97,137.80 L261.35,137.95 L261.73,138.09 L262.10,138.23 L262.48,138.37 L262.86,138.51 L263.23,138.64 L263.61,138.78 L263.99,138.92 L264.37,139.06 L264.74,139.19 L265.12,139.33 L265.50,139.47 L265.88,139.60 L266.25,139.74 L266.63,139.87 L267.01,140.01 L267.39,140.14 L267.76,140.27 L268.14,140.41 L268.52,140.54 L268.90,140.67 L269.27,140.80 L269.65,140.93 L270.03,141.07 L270.40,141.20 L270.78,141.33 L271.16,141.46 L271.54,141.58 L271.91,141.71 L272.29,141.84 L272.67,141.97 L273.05,142.10 L273.42,142.22 L273.80,142.35 L274.18,142.48 L274.56,142.60 L274.93,142.73 L275.31,142.85 L275.69,142.98 L276.06,143.10 L276.44,143.23 L276.82,143.35 L277.20,143.47 L277.57,143.60 L277.95,143.72 L278.33,143.84 L278.71,143.96 L279.08,144.08 L279.46,144.20 L279.84,144.32 L280.22,144.44 L280.59,144.56 L280.97,144.68 L281.35,144.80 L281.72,144.92 L282.10,145.04 L282.48,145.16 L282.86,145.27 L283.23,145.39 L283.61,145.51 L283.99,145.62 L284.37,145.74 L284.74,145.85 L285.12,145.97 L285.50,146.08 L285.88,146.20 L286.25,146.31 L286.63,146.43 L287.01,146.54 L287.39,146.65 L287.76,146.76 L288.14,146.88 L288.52,146.99 L288.89,147.10 L289.27,147.21 L289.65,147.32 L290.03,147.43 L290.40,147.54 L290.78,147.65 L291.16,147.76 L291.54,147.87 L291.91,147.98 L292.29,148.09 L292.67,148.20 L293.05,148.31 L293.42,148.41 L293.80,148.52 L294.18,148.63 L294.55,148.73 L294.93,148.84 L295.31,148.95 L295.69,149.05 L296.06,149.16 L296.44,149.26 L296.82,149.37 L297.20,149.47 L297.57,149.57 L297.95,149.68 L298.33,149.78 L298.71,149.88 L299.08,149.99 L299.46,150.09 L299.84,150.19 L300.22,150.29 L300.59,150.40 L300.97,150.50 L301.35,150.60 L301.72,150.70 L302.10,150.80 L302.48,150.90 L302.86,151.00 L303.23,151.10 L303.61,151.20 L303.99,151.29 L304.37,151.39 L304.74,151.49 L305.12,151.59 L305.50,151.69 L305.88,151.78 L306.25,151.88 L306.63,151.98 L307.01,152.07 L307.38,152.17 L307.76,152.27 L308.14,152.36 L308.52,152.46 L308.89,152.55 L309.27,152.65 L309.65,152.74 L310.03,152.84 L310.40,152.93 L310.78,153.02 L311.16,153.12 L311.54,153.21 L311.91,153.30 L312.29,153.39 L312.67,153.49 L313.05,153.58 L313.42,153.67 L313.80,153.76 L314.18,153.85 L314.55,153.94 L314.93,154.03 L315.31,154.12 L315.69,154.22 L316.06,154.30 L316.44,154.39 L316.82,154.48 L317.20,154.57 L317.57,154.66 L317.95,154.75 L318.33,154.84 L318.71,154.93 L319.08,155.01 L319.46,155.10 L319.84,155.19 L320.21,155.28 L320.59,155.36 L320.97,155.45 L321.35,155.54 L321.72,155.62 L322.10,155.71 L322.48,155.79 L322.86,155.88 L323.23,155.96 L323.61,156.05 L323.99,156.13 L324.37,156.22 L324.74,156.30 L325.12,156.38 L325.50,156.47 L325.88,156.55 L326.25,156.63 L326.63,156.72 L327.01,156.80 L327.38,156.88 L327.76,156.97 L328.14,157.05 L328.52,157.13 L328.89,157.21 L329.27,157.29 L329.65,157.37 L330.03,157.45 L330.40,157.53 L330.78,157.61 L331.16,157.69 L331.54,157.77 L331.91,157.85 L332.29,157.93 L332.67,158.01 L333.04,158.09 L333.42,158.17 L333.80,158.25 L334.18,158.33 L334.55,158.41 L334.93,158.48 L335.31,158.56 L335.69,158.64 L336.06,158.72 L336.44,158.79 L336.82,158.87 L337.20,158.95 L337.57,159.02 L337.95,159.10 L338.33,159.17 L338.70,159.25 L339.08,159.33 L339.46,159.40 L339.84,159.48 L340.21,159.55 L340.59,159.63 L340.97,159.70 L341.35,159.78 L341.72,159.85 L342.10,159.92 L342.48,160.00 L342.86,160.07 L343.23,160.14 L343.61,160.22 L343.99,160.29 L344.37,160.36 L344.74,160.44 L345.12,160.51 L345.50,160.58 L345.87,160.65 L346.25,160.72 L346.63,160.79 L347.01,160.87 L347.38,160.94 L347.76,161.01 L348.14,161.08 L348.52,161.15 L348.89,161.22 L349.27,161.29 L349.65,161.36 L350.03,161.43 L350.40,161.50 L350.78,161.57 L351.16,161.64 L351.53,161.71 L351.91,161.78 L352.29,161.85 L352.67,161.91 L353.04,161.98 L353.42,162.05 L353.80,162.12 L354.18,162.19 L354.55,162.25 L354.93,162.32 L355.31,162.39 L355.69,162.46 L356.06,162.52 L356.44,162.59 L356.82,162.66 L357.20,162.72 L357.57,162.79 L357.95,162.85 L358.33,162.92 L358.70,162.99 L359.08,163.05 L359.46,163.12 L359.84,163.18 L360.21,163.25 L360.59,163.31 L360.97,163.38 L361.35,163.44 L361.72,163.50 L362.10,163.57 L362.48,163.63 L362.86,163.70 L363.23,163.76 L363.61,163.82 L363.99,163.89 L364.36,163.95 L364.74,164.01 L365.12,164.08 L365.50,164.14 L365.87,164.20 L366.25,164.26 L366.63,164.33 L367.01,164.39 L367.38,164.45 L367.76,164.51 L368.14,164.57 L368.52,164.63 L368.89,164.70 L369.27,164.76 L369.65,164.82 L370.03,164.88 L370.40,164.94 L370.78,165.00 L371.16,165.06 L371.53,165.12 L371.91,165.18 L372.29,165.24 L372.67,165.30 L373.04,165.36 L373.42,165.42 L373.80,165.48 L374.18,165.54 L374.55,165.59 L374.93,165.65 L375.31,165.71 L375.69,165.77 L376.06,165.83 L376.44,165.89 L376.82,165.95 L377.19,166.00 L377.57,166.06 L377.95,166.12 L378.33,166.18 L378.70,166.23 L379.08,166.29 L379.46,166.35 L379.84,166.40 L380.21,166.46 L380.59,166.52 L380.97,166.57 L381.35,166.63 L381.72,166.69 L382.10,166.74 L382.48,166.80 L382.86,166.85 L383.23,166.91 L383.61,166.96 L383.99,167.02 L384.36,167.08 L384.74,167.13 L385.12,167.19 L385.50,167.24 L385.87,167.29 L386.25,167.35 L386.63,167.40 L387.01,167.46 L387.38,167.51 L387.76,167.57 L388.14,167.62 L388.52,167.67 L388.89,167.73 L389.27,167.78 L389.65,167.83 L390.02,167.89 L390.40,167.94 L390.78,167.99 L391.16,168.05 L391.53,168.10 L391.91,168.15 L392.29,168.20 L392.67,168.25 L393.04,168.31 L393.42,168.36 L393.80,168.41 L394.18,168.46 L394.55,168.51 L394.93,168.57 L395.31,168.62 L395.69,168.67 L396.06,168.72 L396.44,168.77 L396.82,168.82 L397.19,168.87 L397.57,168.92 L397.95,168.97 L398.33,169.02 L398.70,169.07 L399.08,169.12 L399.46,169.17 L399.84,169.22 L400.21,169.27 L400.59,169.32 L400.97,169.37 L401.35,169.42 L401.72,169.47 L402.10,169.52" stroke="#0000ff" stroke-dasharray="8.4 4.0 3.6 3.76"/>
</g>
<g stroke="#666" stroke-width="0.52" fill="none">
<line x1="62.50" y1="217.5" x2="62.50" y2="212.90"/><line x1="62.50" y1="0.4" x2="62.50" y2="5.00"/><line x1="83.50" y1="217.5" x2="83.50" y2="214.60"/><line x1="83.50" y1="0.4" x2="83.50" y2="3.30"/><line x1="104.50" y1="217.5" x2="104.50" y2="214.60"/><line x1="104.50" y1="0.4" x2="104.50" y2="3.30"/><line x1="126.50" y1="217.5" x2="126.50" y2="214.60"/><line x1="126.50" y1="0.4" x2="126.50" y2="3.30"/><line x1="147.50" y1="217.5" x2="147.50" y2="212.90"/><line x1="147.50" y1="0.4" x2="147.50" y2="5.00"/><line x1="168.50" y1="217.5" x2="168.50" y2="214.60"/><line x1="168.50" y1="0.4" x2="168.50" y2="3.30"/><line x1="189.50" y1="217.5" x2="189.50" y2="214.60"/><line x1="189.50" y1="0.4" x2="189.50" y2="3.30"/><line x1="210.50" y1="217.5" x2="210.50" y2="214.60"/><line x1="210.50" y1="0.4" x2="210.50" y2="3.30"/><line x1="231.50" y1="217.5" x2="231.50" y2="212.90"/><line x1="231.50" y1="0.4" x2="231.50" y2="5.00"/><line x1="252.50" y1="217.5" x2="252.50" y2="214.60"/><line x1="252.50" y1="0.4" x2="252.50" y2="3.30"/><line x1="273.50" y1="217.5" x2="273.50" y2="214.60"/><line x1="273.50" y1="0.4" x2="273.50" y2="3.30"/><line x1="295.50" y1="217.5" x2="295.50" y2="214.60"/><line x1="295.50" y1="0.4" x2="295.50" y2="3.30"/><line x1="316.50" y1="217.5" x2="316.50" y2="212.90"/><line x1="316.50" y1="0.4" x2="316.50" y2="5.00"/><line x1="337.50" y1="217.5" x2="337.50" y2="214.60"/><line x1="337.50" y1="0.4" x2="337.50" y2="3.30"/><line x1="358.50" y1="217.5" x2="358.50" y2="214.60"/><line x1="358.50" y1="0.4" x2="358.50" y2="3.30"/><line x1="379.50" y1="217.5" x2="379.50" y2="214.60"/><line x1="379.50" y1="0.4" x2="379.50" y2="3.30"/><line x1="400.50" y1="217.5" x2="400.50" y2="212.90"/><line x1="400.50" y1="0.4" x2="400.50" y2="5.00"/><line x1="55.5" y1="213.50" x2="60.10" y2="213.50"/><line x1="407.5" y1="213.50" x2="402.90" y2="213.50"/><line x1="55.5" y1="206.50" x2="58.40" y2="206.50"/><line x1="407.5" y1="206.50" x2="404.60" y2="206.50"/><line x1="55.5" y1="199.50" x2="58.40" y2="199.50"/><line x1="407.5" y1="199.50" x2="404.60" y2="199.50"/><line x1="55.5" y1="191.50" x2="58.40" y2="191.50"/><line x1="407.5" y1="191.50" x2="404.60" y2="191.50"/><line x1="55.5" y1="184.50" x2="58.40" y2="184.50"/><line x1="407.5" y1="184.50" x2="404.60" y2="184.50"/><line x1="55.5" y1="177.50" x2="60.10" y2="177.50"/><line x1="407.5" y1="177.50" x2="402.90" y2="177.50"/><line x1="55.5" y1="170.50" x2="58.40" y2="170.50"/><line x1="407.5" y1="170.50" x2="404.60" y2="170.50"/><line x1="55.5" y1="162.50" x2="58.40" y2="162.50"/><line x1="407.5" y1="162.50" x2="404.60" y2="162.50"/><line x1="55.5" y1="155.50" x2="58.40" y2="155.50"/><line x1="407.5" y1="155.50" x2="404.60" y2="155.50"/><line x1="55.5" y1="148.50" x2="58.40" y2="148.50"/><line x1="407.5" y1="148.50" x2="404.60" y2="148.50"/><line x1="55.5" y1="141.50" x2="60.10" y2="141.50"/><line x1="407.5" y1="141.50" x2="402.90" y2="141.50"/><line x1="55.5" y1="133.50" x2="58.40" y2="133.50"/><line x1="407.5" y1="133.50" x2="404.60" y2="133.50"/><line x1="55.5" y1="126.50" x2="58.40" y2="126.50"/><line x1="407.5" y1="126.50" x2="404.60" y2="126.50"/><line x1="55.5" y1="119.50" x2="58.40" y2="119.50"/><line x1="407.5" y1="119.50" x2="404.60" y2="119.50"/><line x1="55.5" y1="112.50" x2="58.40" y2="112.50"/><line x1="407.5" y1="112.50" x2="404.60" y2="112.50"/><line x1="55.5" y1="104.50" x2="60.10" y2="104.50"/><line x1="407.5" y1="104.50" x2="402.90" y2="104.50"/><line x1="55.5" y1="97.50" x2="58.40" y2="97.50"/><line x1="407.5" y1="97.50" x2="404.60" y2="97.50"/><line x1="55.5" y1="90.50" x2="58.40" y2="90.50"/><line x1="407.5" y1="90.50" x2="404.60" y2="90.50"/><line x1="55.5" y1="83.50" x2="58.40" y2="83.50"/><line x1="407.5" y1="83.50" x2="404.60" y2="83.50"/><line x1="55.5" y1="75.50" x2="58.40" y2="75.50"/><line x1="407.5" y1="75.50" x2="404.60" y2="75.50"/><line x1="55.5" y1="68.50" x2="60.10" y2="68.50"/><line x1="407.5" y1="68.50" x2="402.90" y2="68.50"/><line x1="55.5" y1="61.50" x2="58.40" y2="61.50"/><line x1="407.5" y1="61.50" x2="404.60" y2="61.50"/><line x1="55.5" y1="54.50" x2="58.40" y2="54.50"/><line x1="407.5" y1="54.50" x2="404.60" y2="54.50"/><line x1="55.5" y1="46.50" x2="58.40" y2="46.50"/><line x1="407.5" y1="46.50" x2="404.60" y2="46.50"/><line x1="55.5" y1="39.50" x2="58.40" y2="39.50"/><line x1="407.5" y1="39.50" x2="404.60" y2="39.50"/><line x1="55.5" y1="32.50" x2="60.10" y2="32.50"/><line x1="407.5" y1="32.50" x2="402.90" y2="32.50"/><line x1="55.5" y1="25.50" x2="58.40" y2="25.50"/><line x1="407.5" y1="25.50" x2="404.60" y2="25.50"/><line x1="55.5" y1="18.50" x2="58.40" y2="18.50"/><line x1="407.5" y1="18.50" x2="404.60" y2="18.50"/><line x1="55.5" y1="10.50" x2="58.40" y2="10.50"/><line x1="407.5" y1="10.50" x2="404.60" y2="10.50"/><line x1="55.5" y1="3.50" x2="58.40" y2="3.50"/><line x1="407.5" y1="3.50" x2="404.60" y2="3.50"/>
<rect x="55.5" y="0.4" width="352.00" height="217.10" stroke-width="0.6"/>
</g>
<g id="txt" style="opacity:0.999" stroke="#000" stroke-width="0.25"><g font-size="17px" fill="#000"><text transform="translate(62.6,238.3) scale(1,1.07)" text-anchor="middle">0</text><text transform="translate(147.2,238.3) scale(1,1.07)" text-anchor="middle">200</text><text transform="translate(231.7,238.3) scale(1,1.07)" text-anchor="middle">400</text><text transform="translate(316.1,238.3) scale(1,1.07)" text-anchor="middle">600</text><text transform="translate(400.6,238.3) scale(1,1.07)" text-anchor="middle">800</text><text transform="translate(52.3,219.95) scale(1,1.07)" text-anchor="end">0</text><text transform="translate(52.3,183.75) scale(1,1.07)" text-anchor="end">1</text><text transform="translate(52.3,147.55) scale(1,1.07)" text-anchor="end">2</text><text transform="translate(52.3,111.35) scale(1,1.07)" text-anchor="end">3</text><text transform="translate(52.3,75.15) scale(1,1.07)" text-anchor="end">4</text><text transform="translate(52.3,38.95) scale(1,1.07)" text-anchor="end">5</text></g>
<text transform="translate(191.9,271) scale(1,1.02)" font-size="22.9px">T [MeV]</text>
<g transform="translate(27.5,170.66) rotate(-90) scale(1,1.02)" font-size="30px"><text x="0 10.83 23.38 40.4 56.08 73.2 82.64" y="0 0 2.3 0 0 0 0">(ε−3p)/</text><text x="93.1" font-style="italic">T</text><text x="112.26" y="-13.5" font-size="20px">4</text></g>
<g stroke-width="3" fill="none" stroke="none">
<line x1="247.8" y1="22" x2="286" y2="22" stroke="#000"/>
<line x1="247.8" y1="43.5" x2="286" y2="43.5" stroke="#0000ff" stroke-dasharray="8.4 4.0 3.6 3.76"/>
<line x1="247.8" y1="65.5" x2="286" y2="65.5" stroke="#aa0000" stroke-dasharray="13.7 7.35"/>
</g>
<g font-size="20.2px" fill="#000" stroke-width="0.3">
<text transform="translate(288.2,28.7) scale(1,1.07)" dx="0 0 0 0.6 1.15 0.65">WB 2+1</text>
<text transform="translate(288.2,50.1) scale(1,1.07)" dx="0 0 0 0.6 1.15 0.65 -0.25 0.65">WB 2+1+1</text>
<text transform="translate(288.2,71.8) scale(1,1.07)" font-size="20.6px" dx="0 0 0 0 0.9 0.2 -0.1">S95n−v1</text>
</g></g>
</svg>
</body></html>
